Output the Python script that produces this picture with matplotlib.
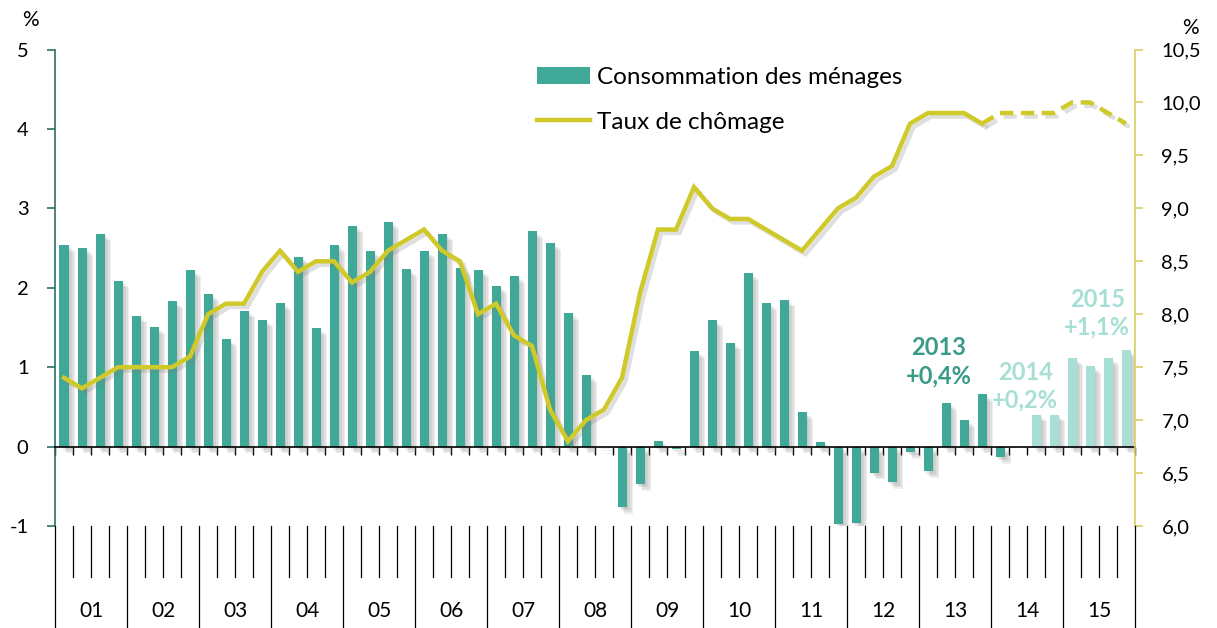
import matplotlib
matplotlib.use("Agg")
import matplotlib.pyplot as plt
import matplotlib.patheffects as pe
from matplotlib.patches import Patch
from matplotlib.lines import Line2D

plt.rcParams['font.family'] = ['Lato', 'DejaVu Sans']

# Données trimestrielles 2001T1 - 2015T4
annees = ['01', '02', '03', '04', '05', '06', '07', '08',
          '09', '10', '11', '12', '13', '14', '15']

# consommation des ménages, glissement annuel (%) - observé 2001T1..2014T2
conso_obs = [2.54, 2.50, 2.68, 2.09, 1.65, 1.50, 1.83, 2.22,
             1.92, 1.35, 1.71, 1.60, 1.81, 2.39, 1.49, 2.54,
             2.78, 2.46, 2.83, 2.23, 2.46, 2.68, 2.25, 2.22,
             2.02, 2.15, 2.71, 2.56, 1.68, 0.90, -0.01, -0.76,
             -0.47, 0.07, -0.03, 1.20, 1.59, 1.31, 2.18, 1.81,
             1.85, 0.43, 0.06, -0.97, -0.96, -0.33, -0.45, -0.07,
             -0.31, 0.55, 0.33, 0.66, -0.13, 0.0]
# prévision 2014T3..2015T4
conso_prev = [0.40, 0.40, 1.11, 1.01, 1.11, 1.21]

# taux de chômage (%) - observé 2001T1..2013T4, puis prévision
chomage_obs = [7.4, 7.3, 7.4, 7.5, 7.5, 7.5, 7.5, 7.6,
               8.0, 8.1, 8.1, 8.4, 8.6, 8.4, 8.5, 8.5,
               8.3, 8.4, 8.6, 8.7, 8.8, 8.6, 8.5, 8.0,
               8.1, 7.8, 7.7, 7.1, 6.8, 7.0, 7.1, 7.4,
               8.2, 8.8, 8.8, 9.2, 9.0, 8.9, 8.9, 8.8,
               8.7, 8.6, 8.8, 9.0, 9.1, 9.3, 9.4, 9.8,
               9.9, 9.9, 9.9, 9.8]
chomage_prev = [9.9, 9.9, 9.9, 9.9, 10.0, 10.0, 9.9, 9.8]

vert = '#40A896'
vert_clair = '#A7DFD5'
jaune = '#CFC92A'

W, H = 1217, 628
fig = plt.figure(figsize=(W / 100, H / 100), dpi=100)
ax = fig.add_axes([55 / W, 102 / H, 1080 / W, 476.5 / H])
ax2 = ax.twinx()

ombre = [pe.SimplePatchShadow(offset=(d, -d), shadow_rgbFace='#808080', alpha=0.13)
         for d in (1.2, 2.4, 3.6, 4.8)] + [pe.Normal()]

n_obs = len(conso_obs)
x_obs = [i + 0.5 for i in range(n_obs)]
x_prev = [n_obs + i + 0.5 for i in range(len(conso_prev))]
b1 = ax.bar(x_obs, conso_obs, width=0.5, color=vert, zorder=3)
b2 = ax.bar(x_prev, conso_prev, width=0.5, color=vert_clair, zorder=3)
for b in list(b1) + list(b2):
    b.set_path_effects(ombre)

ax.set_xlim(0, 60)
ax.set_ylim(-1, 5)
ax.set_yticks(range(-1, 6))
ax.set_yticklabels([str(v) for v in range(-1, 6)])
ax.tick_params(axis='y', direction='out', length=6, width=1.2, color='#2F6E62',
               labelsize=14.5, pad=13)
ax.spines['left'].set_color('#2F6E62')
ax.spines['left'].set_linewidth(1.2)
ax.spines['top'].set_visible(False)
ax.spines['right'].set_visible(False)
ax.spines['bottom'].set_position(('data', 0))
ax.spines['bottom'].set_color('black')
ax.spines['bottom'].set_linewidth(1.2)
ax.spines['bottom'].set_zorder(4)
ax.set_xticks(range(0, 61))
ax.tick_params(axis='x', direction='out', length=6, width=1, labelbottom=False)

# taux de chômage
x_l = [i + 0.5 for i in range(len(chomage_obs))]
x_p = [len(chomage_obs) - 0.5 + i for i in range(len(chomage_prev) + 1)]
ombre_ligne = [pe.SimpleLineShadow(offset=(2.5, -2.5), shadow_color='#808080', alpha=0.25),
               pe.Normal()]
ax2.plot(x_l, chomage_obs, color=jaune, lw=3.2, solid_joinstyle='miter',
         path_effects=ombre_ligne)
ax2.plot(x_p, [chomage_obs[-1]] + chomage_prev, color=jaune, lw=3.2,
         linestyle=(0, (3, 1.7)), path_effects=ombre_ligne)
ax2.set_ylim(6, 10.5)
yt = [6 + 0.5 * k for k in range(10)]
ax2.set_yticks(yt)
ax2.set_yticklabels([f"{v:.1f}".replace('.', ',') for v in yt])
ax2.tick_params(axis='y', direction='out', length=6, width=1.2, color='#D6D060',
                labelsize=14.5, pad=13)
for s in ('left', 'top', 'bottom'):
    ax2.spines[s].set_visible(False)
ax2.spines['right'].set_color('#D6D060')
ax2.spines['right'].set_linewidth(1.2)

fig.text(30 / W, 1 - 20 / H, '%', fontsize=15, ha='center', va='center')
fig.text(1190 / W, 1 - 28 / H, '%', fontsize=15, ha='center', va='center')

# légende
poignees = [Patch(facecolor=vert, edgecolor='none'),
            Line2D([], [], color=jaune, lw=3.2)]
ax2.legend(poignees, ['Consommation des ménages', 'Taux de chômage'],
           loc='upper left', bbox_to_anchor=(537 / W, 1 - 67 / H),
           bbox_transform=fig.transFigure, frameon=False, fontsize=17.5,
           handlelength=2.2, handletextpad=0.25, labelspacing=0.97,
           borderpad=0, borderaxespad=0)

# annotations annuelles
ax2.text(49.1, 7.55, '2013\n+0,4%', color='#3A9A88', fontsize=17, fontweight='bold',
         ha='center', va='center', linespacing=1.25)
ax2.text(53.9, 7.32, '2014\n+0,2%', color=vert_clair, fontsize=17, fontweight='bold',
         ha='center', va='center', linespacing=1.25)
ax2.text(57.9, 8.01, '2015\n+1,1%', color=vert_clair, fontsize=17, fontweight='bold',
         ha='center', va='center', linespacing=1.25)

# axe des catégories (années / trimestres)
cax = fig.add_axes([55 / W, 0, 1080 / W, 102 / H])
cax.set_xlim(0, 60)
cax.set_ylim(0, 1)
cax.axis('off')
for q in range(61):
    if q % 4 == 0:
        cax.plot([q, q], [0, 1], color='black', lw=0.9, clip_on=False)
    else:
        cax.plot([q, q], [0.5, 1], color='black', lw=0.9, clip_on=False)
for k, a in enumerate(annees):
    cax.text(4 * k + 2, 0.17, a, fontsize=15, ha='center', va='center')

fig.savefig('out.png', dpi=100)
